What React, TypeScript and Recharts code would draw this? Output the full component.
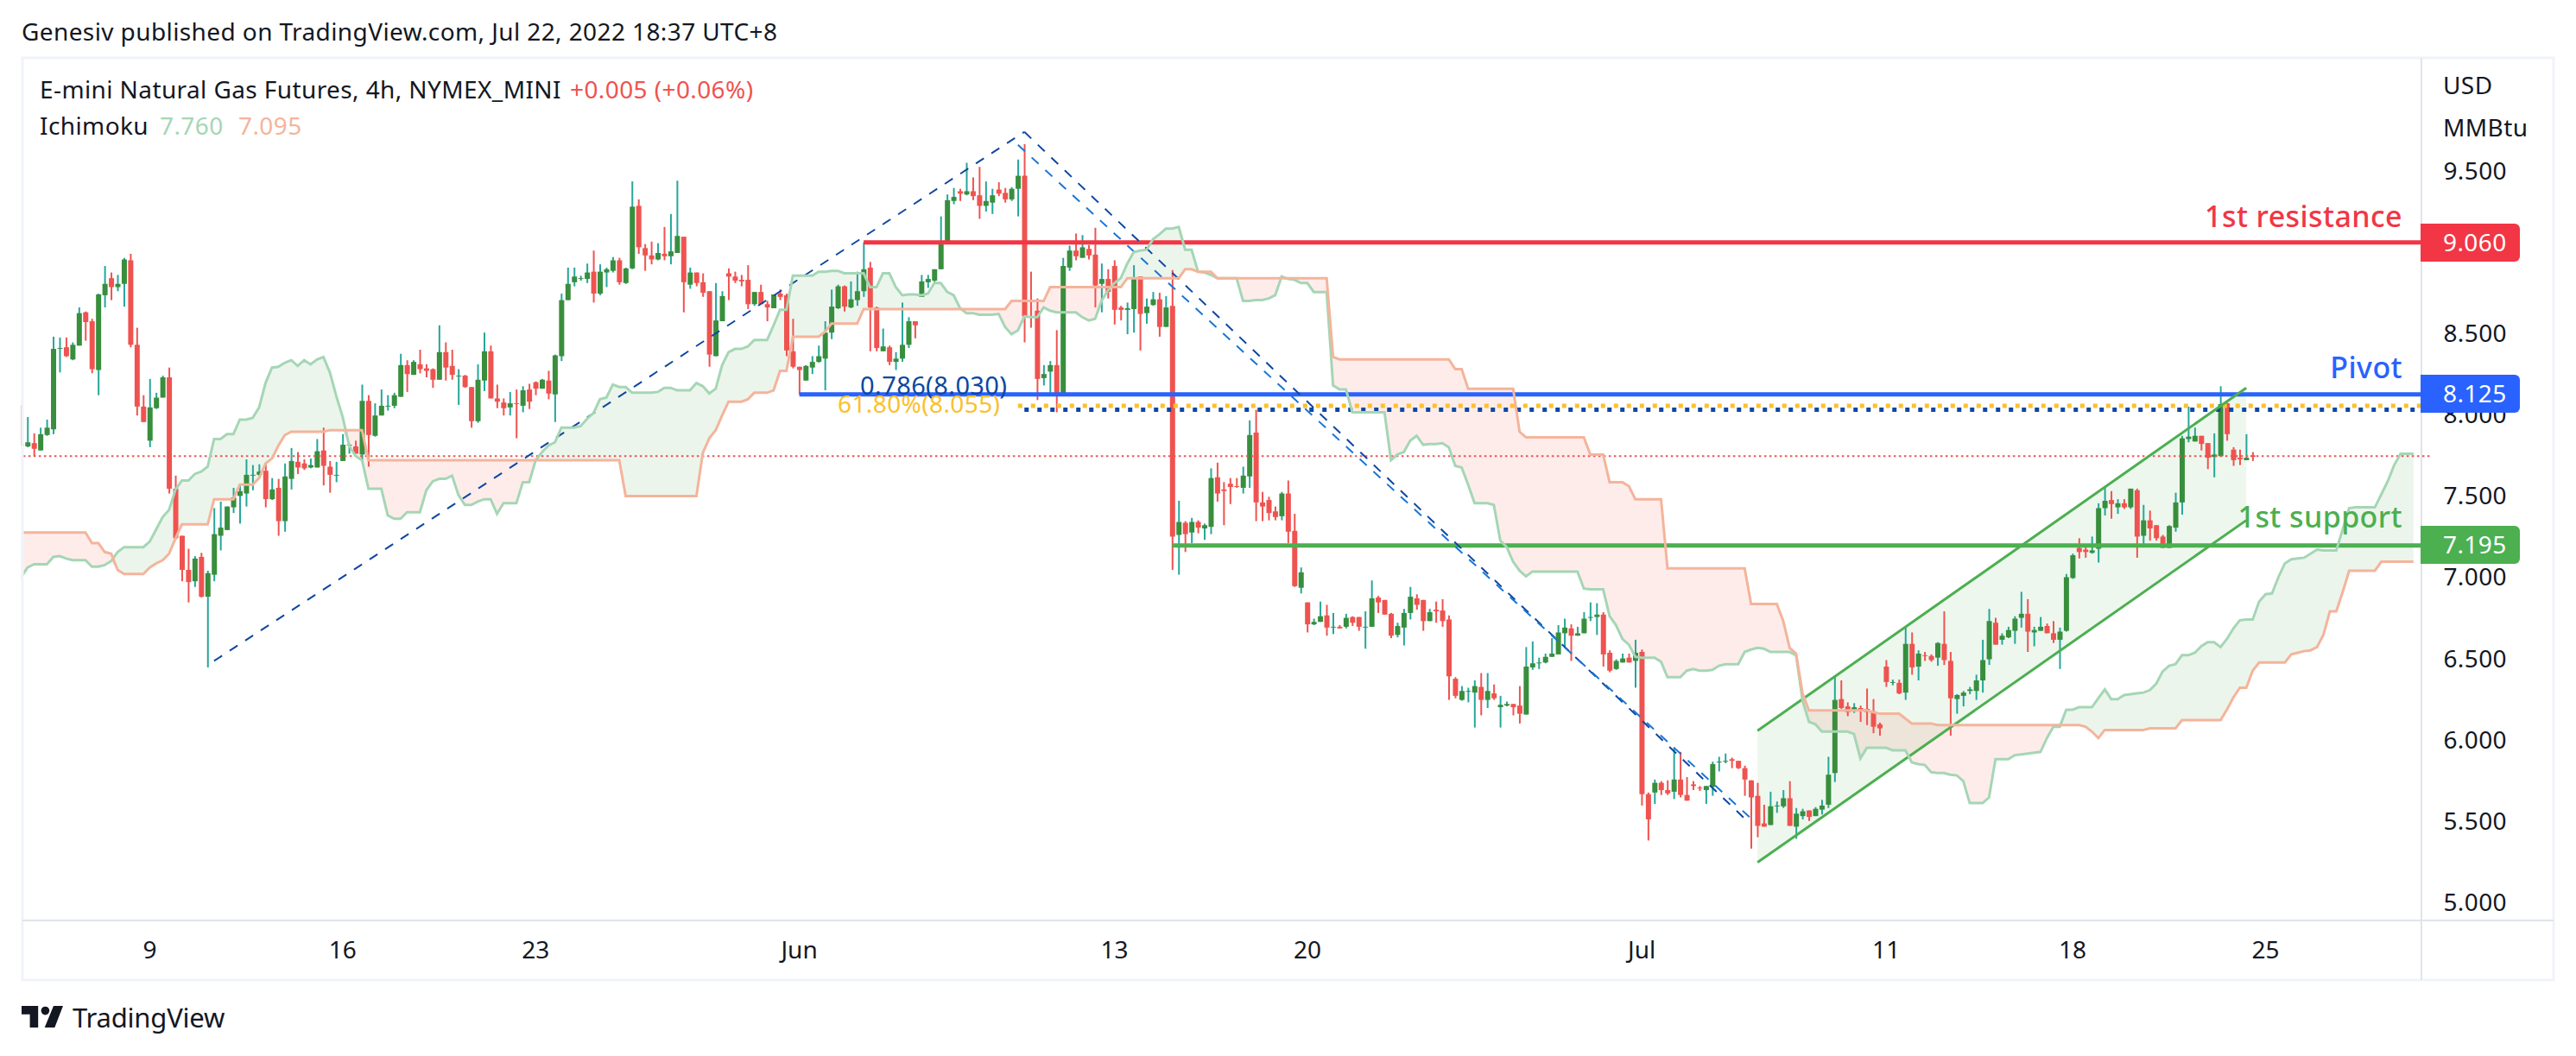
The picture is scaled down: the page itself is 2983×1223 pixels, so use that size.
import { Area, Bar, Cell, ComposedChart, Line, ReferenceLine, XAxis, YAxis } from 'recharts';

// 4h candles
const opens = [
  7.815,7.805,7.825,7.78,7.875,7.91,8.405,8.415,8.34,8.425,
  8.63,8.575,8.275,8.735,8.84,8.785,8.805,8.95,8.43,8.05,
  7.84,8.04,8.105,8.23,7.545,7.255,7.045,6.975,7.125,6.88,
  7.015,7.255,7.29,7.43,7.50,7.515,7.625,7.63,7.655,7.48,
  7.55,7.345,7.605,7.71,7.70,7.675,7.675,7.78,7.68,7.625,
  7.715,7.81,7.805,7.755,8.085,7.87,7.995,8.05,8.055,8.11,
  8.305,8.245,8.31,8.285,8.28,8.215,8.385,8.30,8.235,8.24,
  8.17,7.96,8.21,8.39,8.10,8.075,8.045,8.07,8.055,8.155,
  8.20,8.16,8.21,8.125,8.36,8.705,8.815,8.835,8.835,8.88,
  8.745,8.875,8.885,8.95,8.81,8.90,9.285,9.025,8.98,8.955,
  8.99,8.975,8.995,9.095,8.80,8.875,8.815,8.76,8.36,8.575,
  8.87,8.85,8.83,8.83,8.68,8.755,8.68,8.655,8.745,8.735,
  8.39,8.295,8.21,8.29,8.325,8.345,8.505,8.655,8.79,8.66,
  8.705,8.76,8.905,8.66,8.39,8.415,8.325,8.345,8.43,8.575,
  8.725,8.815,8.825,8.895,9.05,9.315,9.375,9.355,9.375,9.35,
  9.285,9.305,9.385,9.365,9.325,9.39,9.47,8.605,8.64,8.225,
  8.265,8.305,8.115,8.905,9.01,8.965,9.02,8.985,8.805,8.835,
  8.915,8.66,8.645,8.65,8.85,8.625,8.675,8.71,8.54,8.67,
  7.26,7.335,7.275,7.34,7.30,7.31,7.615,7.54,7.575,7.56,
  7.55,7.62,7.89,7.46,7.475,7.405,7.375,7.515,7.285,6.935,
  6.845,6.71,6.725,6.765,6.69,6.695,6.695,6.755,6.755,6.69,
  6.695,6.875,6.86,6.775,6.645,6.69,6.78,6.87,6.86,6.73,
  6.80,6.795,6.74,6.375,6.245,6.295,6.29,6.325,6.245,6.285,
  6.20,6.21,6.22,6.21,6.155,6.445,6.47,6.475,6.51,6.525,
  6.655,6.685,6.64,6.655,6.75,6.755,6.77,6.535,6.435,6.475,
  6.505,6.485,6.54,5.665,5.675,5.735,5.69,5.68,5.755,5.66,
  5.725,5.705,5.69,5.71,5.86,5.865,5.88,5.87,5.825,5.75,
  5.655,5.485,5.475,5.59,5.59,5.64,5.465,5.53,5.565,5.53,
  5.57,5.60,5.795,6.25,6.205,6.175,6.195,6.19,6.175,6.095,
  6.45,6.35,6.35,6.29,6.59,6.45,6.52,6.515,6.505,6.59,
  6.485,6.25,6.27,6.30,6.30,6.365,6.495,6.72,6.615,6.63,
  6.67,6.75,6.775,6.66,6.67,6.70,6.655,6.615,6.67,6.995,
  7.18,7.17,7.15,7.175,7.425,7.475,7.43,7.455,7.43,7.535,
  7.255,7.35,7.32,7.25,7.18,7.305,7.46,7.85,7.835,7.87,
  7.825,7.74,7.745,8.07,7.785,7.735,7.72,7.75,
];
const highs = [
  8.06,7.985,7.885,7.92,7.97,8.48,8.475,8.475,8.445,8.66,
  8.635,8.59,8.745,8.915,8.875,8.86,8.965,8.99,8.535,8.12,
  8.22,8.135,8.24,8.29,7.625,7.255,7.175,7.13,7.15,7.04,
  7.425,7.465,7.435,7.55,7.565,7.725,7.69,7.695,7.70,7.61,
  7.605,7.70,7.795,7.77,7.725,7.73,7.85,7.92,7.715,7.71,
  7.88,7.82,7.84,8.185,8.12,8.07,8.155,8.12,8.135,8.375,
  8.335,8.335,8.40,8.31,8.285,8.55,8.445,8.40,8.28,8.245,
  8.17,8.31,8.505,8.425,8.185,8.10,8.14,8.155,8.175,8.19,
  8.205,8.22,8.27,8.37,8.745,8.905,8.905,8.855,8.93,9.01,
  8.925,8.905,8.97,8.965,8.905,9.435,9.325,9.05,9.065,9.055,
  9.155,9.235,9.44,9.095,8.905,8.875,8.87,8.76,8.81,8.76,
  8.90,8.88,8.86,8.92,8.755,8.80,8.70,8.74,8.77,8.745,
  8.59,8.295,8.305,8.36,8.425,8.575,8.77,8.80,8.795,8.82,
  8.88,9.06,8.94,8.665,8.53,8.425,8.385,8.69,8.60,8.575,
  8.86,8.86,8.895,9.22,9.355,9.395,9.39,9.55,9.46,9.525,
  9.435,9.39,9.43,9.395,9.40,9.57,9.665,8.88,8.715,8.305,
  8.33,8.52,8.965,9.04,9.115,9.105,9.045,9.15,8.93,8.895,
  8.95,8.67,8.69,8.92,8.85,8.715,8.755,8.75,8.73,8.89,
  7.47,7.345,7.365,7.35,7.33,7.67,7.705,7.585,7.61,7.61,
  7.68,7.965,8.03,7.525,7.495,7.435,7.525,7.595,7.39,7.06,
  6.845,6.745,6.85,6.83,6.78,6.705,6.775,6.76,6.755,6.79,
  6.98,6.885,6.86,6.78,6.72,6.805,6.94,6.895,6.86,6.805,
  6.85,6.865,6.765,6.385,6.33,6.32,6.365,6.41,6.41,6.34,
  6.27,6.235,6.22,6.33,6.57,6.605,6.505,6.53,6.625,6.705,
  6.745,6.71,6.695,6.785,6.845,6.84,6.785,6.55,6.495,6.53,
  6.53,6.615,6.555,5.675,5.755,5.745,5.75,5.955,5.925,5.77,
  5.745,5.715,5.715,5.865,5.895,5.915,5.89,5.87,5.84,5.75,
  5.735,5.60,5.68,5.62,5.69,5.745,5.58,5.575,5.565,5.585,
  5.63,5.895,6.395,6.365,6.23,6.225,6.21,6.315,6.25,6.105,
  6.49,6.37,6.37,6.695,6.66,6.55,6.54,6.525,6.60,6.79,
  6.54,6.28,6.30,6.325,6.40,6.615,6.805,6.75,6.655,6.695,
  6.76,6.91,6.865,6.695,6.755,6.715,6.73,6.69,7.02,7.145,
  7.24,7.19,7.25,7.455,7.555,7.53,7.48,7.48,7.545,7.545,
  7.445,7.41,7.32,7.26,7.32,7.52,7.87,8.05,7.92,7.87,
  7.825,7.885,8.175,8.075,7.80,7.785,7.88,7.77,
];
const lows = [
  7.81,7.80,7.745,7.78,7.87,7.88,8.26,8.355,8.335,8.425,
  8.455,8.255,8.12,8.66,8.705,8.76,8.665,8.415,7.995,7.955,
  7.80,8.035,8.105,7.515,7.23,6.975,6.845,6.94,6.875,6.445,
  6.975,7.165,7.29,7.395,7.33,7.435,7.535,7.61,7.43,7.475,
  7.255,7.28,7.54,7.635,7.66,7.67,7.675,7.565,7.52,7.585,
  7.715,7.76,7.76,7.715,7.68,7.865,7.995,8.025,8.04,8.11,
  8.14,8.245,8.255,8.23,8.165,8.215,8.21,8.215,8.06,8.165,
  7.92,7.95,8.145,8.10,8.04,7.995,7.995,7.855,8.015,8.035,
  8.12,8.16,8.095,7.955,8.33,8.705,8.79,8.825,8.81,8.69,
  8.735,8.785,8.875,8.80,8.805,8.895,8.99,8.885,8.925,8.95,
  8.95,8.925,8.995,8.63,8.775,8.79,8.725,8.295,8.36,8.575,
  8.705,8.81,8.79,8.65,8.67,8.68,8.575,8.655,8.705,8.36,
  8.285,8.125,8.21,8.25,8.32,8.15,8.465,8.65,8.635,8.655,
  8.67,8.725,8.39,8.39,8.39,8.305,8.275,8.325,8.41,8.47,
  8.725,8.78,8.81,8.895,9.05,9.295,9.315,9.35,9.32,9.205,
  9.25,9.235,9.345,9.305,9.315,9.22,8.445,8.535,8.09,8.18,
  8.135,8.015,8.115,8.885,8.95,8.965,8.955,8.66,8.63,8.715,
  8.555,8.58,8.495,8.505,8.395,8.56,8.67,8.48,8.54,7.045,
  7.015,7.155,7.21,7.27,7.23,7.265,7.465,7.32,7.45,7.55,
  7.515,7.55,7.345,7.345,7.35,7.35,7.35,7.21,6.94,6.90,
  6.66,6.705,6.725,6.64,6.65,6.685,6.685,6.70,6.67,6.56,
  6.695,6.78,6.77,6.625,6.63,6.58,6.74,6.80,6.67,6.73,
  6.72,6.695,6.245,6.255,6.24,6.23,6.075,6.15,6.195,6.245,
  6.075,6.205,6.15,6.10,6.155,6.43,6.435,6.47,6.51,6.525,
  6.57,6.485,6.64,6.655,6.73,6.645,6.45,6.415,6.43,6.475,
  6.475,6.32,5.595,5.38,5.605,5.66,5.66,5.635,5.645,5.625,
  5.69,5.685,5.605,5.655,5.805,5.855,5.825,5.82,5.655,5.33,
  5.40,5.465,5.475,5.55,5.58,5.47,5.39,5.51,5.50,5.53,
  5.54,5.58,5.74,6.19,6.145,6.165,6.11,6.09,6.04,6.025,
  6.325,6.335,6.28,6.245,6.40,6.365,6.485,6.48,6.455,6.46,
  6.025,6.16,6.205,6.28,6.245,6.29,6.46,6.585,6.585,6.625,
  6.59,6.69,6.54,6.575,6.67,6.655,6.595,6.435,6.665,6.99,
  7.115,7.12,7.145,7.09,7.38,7.36,7.39,7.42,7.42,7.12,
  7.205,7.225,7.225,7.18,7.18,7.28,7.385,7.83,7.835,7.78,
  7.665,7.615,7.74,7.84,7.685,7.69,7.72,7.715,
];
const closes = [
  7.81,7.83,7.79,7.88,7.92,8.405,8.41,8.36,8.43,8.625,
  8.57,8.28,8.74,8.805,8.785,8.805,8.955,8.43,8.05,7.955,
  8.045,8.105,8.23,7.545,7.24,7.045,6.97,7.115,6.88,7.025,
  7.265,7.305,7.435,7.49,7.53,7.63,7.63,7.65,7.48,7.54,
  7.345,7.62,7.715,7.675,7.67,7.69,7.775,7.685,7.63,7.63,
  7.815,7.815,7.76,8.085,7.875,7.995,8.055,8.055,8.12,8.305,
  8.25,8.325,8.28,8.27,8.215,8.385,8.29,8.245,8.24,8.17,
  7.96,8.215,8.39,8.10,8.08,8.04,8.07,8.065,8.15,8.08,
  8.16,8.215,8.13,8.365,8.705,8.805,8.85,8.84,8.875,8.745,
  8.88,8.895,8.95,8.815,8.90,9.28,9.03,8.98,8.955,8.995,
  8.975,9.005,9.10,8.815,8.875,8.81,8.75,8.37,8.58,8.73,
  8.85,8.825,8.82,8.68,8.755,8.68,8.66,8.74,8.725,8.395,
  8.295,8.275,8.30,8.325,8.36,8.505,8.665,8.79,8.665,8.71,
  8.76,8.895,8.66,8.41,8.42,8.325,8.345,8.43,8.575,8.55,
  8.82,8.835,8.895,9.05,9.32,9.34,9.36,9.375,9.345,9.285,
  9.315,9.35,9.36,9.325,9.39,9.47,8.605,8.60,8.22,8.25,
  8.305,8.115,8.915,9.01,8.975,9.03,8.98,8.795,8.835,8.755,
  8.645,8.645,8.655,8.835,8.62,8.665,8.71,8.54,8.66,7.25,
  7.34,7.265,7.34,7.305,7.32,7.61,7.515,7.53,7.555,7.555,
  7.625,7.875,7.46,7.435,7.395,7.37,7.515,7.28,6.945,7.03,
  6.71,6.725,6.76,6.69,6.695,6.685,6.75,6.72,6.695,6.695,
  6.87,6.845,6.77,6.64,6.70,6.78,6.88,6.83,6.73,6.785,
  6.79,6.73,6.39,6.27,6.30,6.30,6.33,6.245,6.30,6.255,
  6.215,6.22,6.20,6.16,6.45,6.47,6.475,6.51,6.53,6.66,
  6.69,6.64,6.655,6.745,6.755,6.77,6.525,6.425,6.485,6.50,
  6.475,6.535,5.665,5.51,5.735,5.69,5.67,5.755,5.66,5.625,
  5.715,5.70,5.715,5.85,5.865,5.87,5.87,5.825,5.755,5.645,
  5.47,5.465,5.59,5.595,5.64,5.47,5.545,5.56,5.525,5.575,
  5.595,5.785,6.245,6.195,6.17,6.20,6.18,6.17,6.08,6.07,
  6.355,6.355,6.285,6.59,6.445,6.53,6.515,6.49,6.595,6.49,
  6.255,6.275,6.29,6.31,6.365,6.49,6.73,6.585,6.64,6.675,
  6.745,6.775,6.665,6.675,6.695,6.655,6.615,6.665,7.00,7.135,
  7.155,7.155,7.165,7.425,7.47,7.45,7.455,7.43,7.545,7.25,
  7.35,7.30,7.24,7.18,7.315,7.46,7.855,7.865,7.87,7.82,
  7.735,7.755,8.065,7.88,7.72,7.725,7.735,7.74,
];

// Ichimoku cloud edges, one value per slot (the cloud runs past the last candle)
const senkouA = [
  7.00,7.06,7.08,7.08,7.08,7.125,7.13,7.115,7.105,7.105,
  7.105,7.065,7.065,7.075,7.10,7.155,7.185,7.185,7.185,7.185,
  7.22,7.295,7.37,7.415,7.54,7.595,7.595,7.635,7.65,7.68,
  7.85,7.85,7.88,7.88,7.97,7.97,7.98,8.045,8.195,8.29,
  8.295,8.32,8.335,8.30,8.335,8.31,8.34,8.355,8.26,8.115,
  7.985,7.81,7.745,7.72,7.545,7.545,7.545,7.38,7.36,7.36,
  7.40,7.40,7.40,7.535,7.59,7.605,7.605,7.625,7.505,7.445,
  7.445,7.465,7.48,7.48,7.39,7.455,7.455,7.455,7.585,7.585,
  7.72,7.77,7.81,7.83,7.92,7.92,7.92,7.93,7.975,8.01,
  8.095,8.105,8.185,8.17,8.17,8.135,8.135,8.135,8.135,8.14,
  8.165,8.165,8.15,8.15,8.15,8.195,8.175,8.13,8.16,8.305,
  8.385,8.405,8.405,8.42,8.46,8.46,8.46,8.55,8.645,8.645,
  8.855,8.855,8.855,8.855,8.88,8.88,8.885,8.885,8.87,8.87,
  8.87,8.87,8.785,8.785,8.87,8.87,8.785,8.735,8.74,8.74,
  8.735,8.745,8.81,8.81,8.755,8.735,8.655,8.625,8.625,8.615,
  8.615,8.615,8.62,8.54,8.495,8.52,8.605,8.60,8.60,8.66,
  8.64,8.63,8.63,8.63,8.63,8.60,8.58,8.59,8.70,8.765,
  8.81,8.84,8.93,9.00,9.01,9.015,9.08,9.11,9.145,9.145,
  9.155,9.015,9.015,8.88,8.875,8.86,8.84,8.84,8.84,8.84,
  8.70,8.70,8.705,8.705,8.715,8.735,8.85,8.835,8.83,8.81,
  8.81,8.755,8.755,8.755,8.18,8.155,8.155,8.015,8.015,8.015,
  8.015,8.015,8.015,7.72,7.755,7.77,7.84,7.87,7.815,7.82,
  7.82,7.825,7.80,7.685,7.675,7.57,7.455,7.455,7.455,7.445,
  7.225,7.185,7.095,7.04,7.005,7.035,7.035,7.035,7.035,7.035,
  7.035,7.035,7.035,6.93,6.925,6.925,6.925,6.76,6.705,6.62,
  6.585,6.51,6.505,6.505,6.505,6.48,6.385,6.385,6.385,6.425,
  6.435,6.425,6.425,6.43,6.455,6.465,6.465,6.465,6.54,6.555,
  6.565,6.56,6.54,6.54,6.54,6.54,6.52,6.24,6.11,6.095,
  6.05,6.05,6.05,6.05,6.05,6.035,5.885,5.95,5.95,5.95,
  5.95,5.935,5.935,5.935,5.86,5.85,5.845,5.80,5.795,5.795,
  5.785,5.78,5.745,5.61,5.61,5.61,5.645,5.88,5.88,5.88,
  5.905,5.91,5.915,5.92,5.925,6.01,6.08,6.08,6.185,6.185,
  6.20,6.20,6.20,6.255,6.31,6.25,6.25,6.275,6.28,6.285,
  6.29,6.305,6.345,6.42,6.455,6.465,6.52,6.52,6.535,6.575,
  6.60,6.60,6.57,6.62,6.685,6.735,6.74,6.74,6.85,6.895,
  6.90,7.00,7.085,7.11,7.115,7.12,7.145,7.17,7.165,7.165,
  7.165,7.295,7.425,7.43,7.43,7.43,7.43,7.51,7.59,7.69,
  7.76,7.76,7.76,
];
const senkouB = [
  7.275,7.275,7.275,7.275,7.275,7.275,7.275,7.275,7.275,7.275,
  7.275,7.21,7.21,7.155,7.145,7.045,7.02,7.02,7.02,7.02,
  7.06,7.085,7.105,7.145,7.24,7.325,7.325,7.325,7.325,7.325,
  7.48,7.48,7.48,7.48,7.57,7.57,7.57,7.61,7.70,7.73,
  7.81,7.875,7.895,7.895,7.895,7.895,7.895,7.895,7.905,7.905,
  7.905,7.905,7.905,7.905,7.72,7.72,7.72,7.72,7.72,7.72,
  7.72,7.72,7.72,7.72,7.72,7.72,7.72,7.72,7.72,7.72,
  7.72,7.72,7.72,7.72,7.72,7.72,7.72,7.72,7.72,7.72,
  7.72,7.72,7.72,7.72,7.72,7.72,7.72,7.72,7.72,7.72,
  7.72,7.72,7.72,7.72,7.50,7.50,7.50,7.50,7.50,7.50,
  7.50,7.50,7.50,7.50,7.50,7.50,7.765,7.855,7.905,7.995,
  8.08,8.08,8.08,8.095,8.135,8.135,8.135,8.15,8.27,8.27,
  8.48,8.48,8.48,8.48,8.48,8.51,8.56,8.56,8.56,8.56,
  8.56,8.65,8.65,8.65,8.65,8.65,8.65,8.65,8.65,8.65,
  8.65,8.65,8.65,8.65,8.65,8.65,8.65,8.65,8.65,8.65,
  8.65,8.65,8.65,8.65,8.70,8.70,8.70,8.70,8.70,8.70,
  8.785,8.785,8.785,8.785,8.785,8.785,8.785,8.785,8.785,8.785,
  8.785,8.785,8.84,8.84,8.84,8.84,8.84,8.84,8.84,8.84,
  8.84,8.895,8.895,8.88,8.88,8.88,8.84,8.84,8.84,8.84,
  8.84,8.84,8.84,8.84,8.84,8.84,8.84,8.84,8.84,8.84,
  8.84,8.84,8.84,8.84,8.355,8.34,8.34,8.34,8.34,8.34,
  8.34,8.34,8.34,8.34,8.34,8.34,8.34,8.34,8.34,8.34,
  8.34,8.34,8.34,8.28,8.28,8.16,8.16,8.16,8.16,8.16,
  8.16,8.16,8.16,7.895,7.86,7.86,7.86,7.86,7.86,7.86,
  7.86,7.86,7.86,7.86,7.755,7.755,7.755,7.585,7.585,7.585,
  7.56,7.48,7.48,7.48,7.48,7.48,7.055,7.055,7.055,7.055,
  7.055,7.055,7.055,7.055,7.055,7.055,7.055,7.055,7.055,6.835,
  6.835,6.835,6.835,6.835,6.73,6.565,6.53,6.285,6.18,6.18,
  6.18,6.18,6.18,6.18,6.18,6.18,6.18,6.18,6.17,6.16,
  6.16,6.16,6.16,6.13,6.10,6.10,6.10,6.10,6.09,6.09,
  6.09,6.09,6.09,6.09,6.09,6.09,6.09,6.09,6.09,6.09,
  6.09,6.09,6.09,6.09,6.09,6.09,6.09,6.09,6.09,6.09,
  6.09,6.08,6.05,6.01,6.06,6.06,6.06,6.06,6.06,6.06,
  6.06,6.07,6.07,6.07,6.07,6.07,6.12,6.12,6.12,6.12,
  6.12,6.12,6.12,6.185,6.26,6.32,6.32,6.425,6.475,6.475,
  6.475,6.475,6.475,6.525,6.535,6.545,6.55,6.57,6.645,6.79,
  6.79,6.91,7.04,7.04,7.04,7.04,7.04,7.095,7.095,7.095,
  7.095,7.095,7.095,
];

const priceTicks = [5, 5.5, 6, 6.5, 7, 7.5, 8, 8.5, 9.5];
const dateSlots = [20, 50, 80, 121, 170, 200, 252, 290, 319, 349];
const dateLabels = ['9', '16', '23', 'Jun', '13', '20', 'Jul', '11', '18', '25'];

// hand drawn channel, slots and prices of its two ends
const channelSlots = [270, 346];
const channelLow = [5.245, 7.35];
const channelHigh = [6.055, 8.165];

const SLOT_COUNT = 375;
const LAST_PRICE = 7.745;

const UP = '#388e3c';
const UP_WICK = '#26a69a';
const DOWN = '#ef5350';
const RED = '#f23645';
const BLUE = '#2962ff';
const GREEN = '#4caf50';
const FIB_DARK = '#0d47a1';
const FIB_LIGHT = '#1976d2';
const ORANGE = '#fbc02d';
const TEXT = '#131722';
const FONT = '"Noto Sans", sans-serif';

const rows = Array.from({ length: SLOT_COUNT }, (_, i) => {
  const hasCandle = i < opens.length;
  const hasCloud = i < senkouA.length;
  const c = channelSlots.indexOf(i);
  return {
    i,
    wick: hasCandle ? [lows[i], highs[i]] : null,
    body: hasCandle ? [Math.min(opens[i], closes[i]), Math.max(opens[i], closes[i])] : null,
    up: hasCandle && closes[i] >= opens[i],
    a: hasCloud ? senkouA[i] : null,
    b: hasCloud ? senkouB[i] : null,
    greenCloud: hasCloud ? [Math.min(senkouA[i], senkouB[i]), senkouA[i]] : null,
    redCloud: hasCloud ? [Math.min(senkouA[i], senkouB[i]), senkouB[i]] : null,
    channel: c >= 0 ? [channelLow[c], channelHigh[c]] : null,
  };
});

function PriceTag({ y, color, label }: { y: number; color: string; label: string }) {
  return (
    <g>
      <path d={`M2803 ${y - 22}H2912a6 6 0 0 1 6 6V${y + 16}a6 6 0 0 1 -6 6H2803Z`} fill={color} />
      <text x={2829} y={y + 10} fontSize={28} letterSpacing={0.4} fill="#fff">{label}</text>
    </g>
  );
}

function Overlay() {
  return (
    <svg width={2983} height={1223} style={{ position: 'absolute', left: 0, top: 0, pointerEvents: 'none' }} fontFamily={FONT} letterSpacing={0.4}>
      <rect x={0} y={60} width={24.5} height={1080} fill="#fff" />
      <rect x={26} y={67} width={2931} height={1068} fill="none" stroke="#f0f3fa" strokeWidth={3} />
      <rect x={2803} y={67} width={2} height={1068} fill="#e0e3eb" />
      <rect x={26} y={1065} width={2931} height={2} fill="#e0e3eb" />

      <text x={25} y={47} fontSize={28} fill={TEXT}>Genesiv published on TradingView.com, Jul 22, 2022 18:37 UTC+8</text>
      <text x={46} y={114} fontSize={28} fill={TEXT}>E-mini Natural Gas Futures, 4h, NYMEX_MINI</text>
      <text x={660} y={114} fontSize={28} fill={DOWN}>+0.005 (+0.06%)</text>
      <text x={46} y={156} fontSize={28} fill={TEXT}>Ichimoku</text>
      <text x={185} y={156} fontSize={28} fill="#a5d6b5">7.760</text>
      <text x={276} y={156} fontSize={28} fill="#f4b49b">7.095</text>

      <text x={2829} y={109} fontSize={28} fill={TEXT}>USD</text>
      <text x={2829} y={158} fontSize={28} fill={TEXT}>MMBtu</text>

      <text x={2782} y={263} fontSize={34} fontWeight={500} fill={RED} textAnchor="end">1st resistance</text>
      <text x={2782} y={438} fontSize={34} fontWeight={500} fill={BLUE} textAnchor="end">Pivot</text>
      <text x={2782} y={611} fontSize={34} fontWeight={500} fill={GREEN} textAnchor="end">1st support</text>
      <text x={996} y={457} fontSize={29} fill={FIB_DARK}>0.786(8.030)</text>
      <text x={970} y={478} fontSize={28} fill={ORANGE}>61.80%(8.055)</text>

      <PriceTag y={281} color={RED} label="9.060" />
      <PriceTag y={456} color={BLUE} label="8.125" />
      <PriceTag y={631} color={GREEN} label="7.195" />

      <g transform="translate(25 1165) scale(1.37 1.39) translate(0 -7)" fill={TEXT}>
        <path d="M14 25H7V14H0V7h14v18Zm14 0h-8.5L27 7h8l-7 18Z" />
        <circle cx={20} cy={11} r={3.5} />
      </g>
      <text x={84} y={1190} fontSize={31} letterSpacing={-0.2} fill={TEXT}>TradingView</text>
    </svg>
  );
}

export default function App() {
  return (
    <div style={{ position: 'absolute', left: 0, top: 0, width: 2983, height: 1223, background: '#fff' }}>
      <ComposedChart
        width={2983}
        height={1223}
        data={rows}
        margin={{ top: 66, right: 0, bottom: 0, left: 20.8 }}
        barCategoryGap={0}
        barGap={0}
      >
        <XAxis
          dataKey="i"
          type="category"
          height={157}
          ticks={dateSlots}
          interval={0}
          tickFormatter={(v: number) => dateLabels[dateSlots.indexOf(v)]}
          tick={{ fontSize: 28, fill: TEXT, fontFamily: FONT }}
          tickSize={0}
          tickMargin={24}
          axisLine={false}
        />
        <XAxis dataKey="i" type="category" xAxisId="wick" hide />
        <YAxis
          orientation="right"
          width={169.6}
          domain={[4.888, 10.201]}
          ticks={priceTicks}
          tickFormatter={(v: number) => v.toFixed(3)}
          tick={{ fontSize: 28, fill: TEXT, fontFamily: FONT, letterSpacing: 0.4 }}
          tickSize={0}
          tickMargin={16}
          axisLine={false}
          allowDataOverflow
        />

        <ReferenceLine y={LAST_PRICE} segment={[{ x: 0, y: LAST_PRICE }, { x: 373, y: LAST_PRICE }]} stroke={DOWN} strokeWidth={2} strokeDasharray="2.5 3.5" />
        <ReferenceLine segment={[{ x: 131, y: 9.06 }, { x: 374, y: 9.06 }]} stroke={RED} strokeWidth={5} />
        <ReferenceLine segment={[{ x: 121, y: 8.125 }, { x: 374, y: 8.125 }]} stroke={BLUE} strokeWidth={5} />
        <ReferenceLine segment={[{ x: 179, y: 7.195 }, { x: 374, y: 7.195 }]} stroke={GREEN} strokeWidth={5} />
        <ReferenceLine segment={[{ x: 155, y: 8.055 }, { x: 374, y: 8.055 }]} stroke={ORANGE} strokeWidth={5} strokeDasharray="5 10" />
        <ReferenceLine segment={[{ x: 156, y: 8.03 }, { x: 374, y: 8.03 }]} stroke={FIB_DARK} strokeWidth={5} strokeDasharray="5 10" />
        <ReferenceLine segment={[{ x: 30, y: 6.485 }, { x: 156, y: 9.74 }]} stroke={FIB_DARK} strokeWidth={2} strokeDasharray="11 10.5" />
        <ReferenceLine segment={[{ x: 156, y: 9.74 }, { x: 268, y: 5.515 }]} stroke={FIB_DARK} strokeWidth={2} strokeDasharray="11 10.5" />
        <ReferenceLine segment={[{ x: 155, y: 9.66 }, { x: 269, y: 5.515 }]} stroke={FIB_LIGHT} strokeWidth={2} strokeDasharray="11 10.5" />
        <ReferenceLine segment={[{ x: channelSlots[0], y: channelLow[0] }, { x: channelSlots[1], y: channelLow[1] }]} stroke={GREEN} strokeWidth={3} />
        <ReferenceLine segment={[{ x: channelSlots[0], y: channelHigh[0] }, { x: channelSlots[1], y: channelHigh[1] }]} stroke={GREEN} strokeWidth={3} />

        <Area dataKey="channel" connectNulls stroke="none" fill="rgba(76,175,80,0.1)" fillOpacity={1} dot={false} activeDot={false} isAnimationActive={false} />
        <Area dataKey="greenCloud" stroke="none" fill="rgba(67,160,71,0.1)" fillOpacity={1} dot={false} activeDot={false} isAnimationActive={false} />
        <Area dataKey="redCloud" stroke="none" fill="rgba(244,67,54,0.1)" fillOpacity={1} dot={false} activeDot={false} isAnimationActive={false} />
        <Line dataKey="a" stroke="#a5d6b5" strokeWidth={3} dot={false} activeDot={false} isAnimationActive={false} />
        <Line dataKey="b" stroke="#f4b49b" strokeWidth={3} dot={false} activeDot={false} isAnimationActive={false} />

        <Bar dataKey="wick" xAxisId="wick" barSize={2} isAnimationActive={false}>
          {rows.map(r => <Cell key={r.i} fill={r.up ? UP_WICK : DOWN} />)}
        </Bar>
        <Bar dataKey="body" barSize={6} isAnimationActive={false}>
          {rows.map(r => <Cell key={r.i} fill={r.up ? UP : DOWN} />)}
        </Bar>
      </ComposedChart>
      <Overlay />
    </div>
  );
}
